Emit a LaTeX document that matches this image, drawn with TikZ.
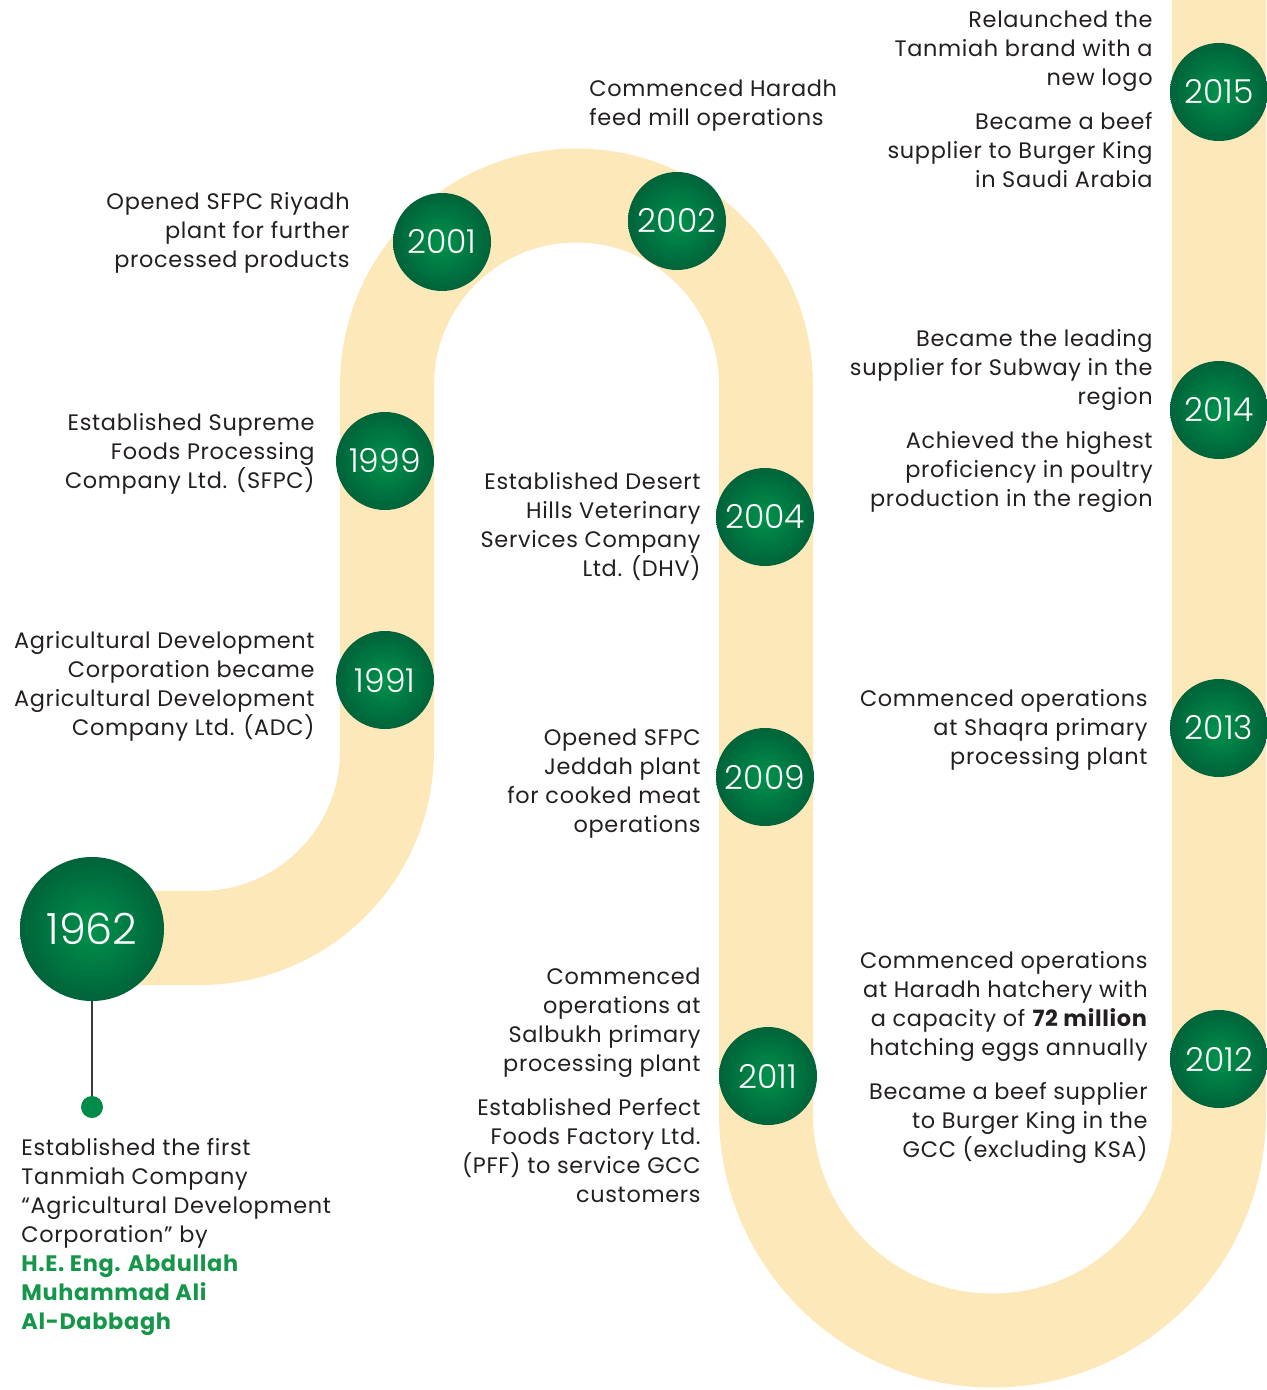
\documentclass[tikz,border=0pt]{standalone}
\usepackage{fontspec}
\setmainfont{Poppins}
\newfontfamily\tlfont{Poppins}[LetterSpace=3]
\newfontfamily\tlyearfont{Poppins}[UprightFont=* Light]
\usetikzlibrary{calc}
\definecolor{tlInk}{HTML}{231F20}
\definecolor{tlTrack}{HTML}{FDE8BA}
\definecolor{tlDark}{HTML}{00633A}
\definecolor{tlLight}{HTML}{00924B}
\definecolor{tlName}{HTML}{16964A}
\definecolor{tlStem}{HTML}{3A3A3A}
\newcommand{\tlgap}{\\[7.5pt]}
\tikzset{
  tltrack/.style={draw=tlTrack, line width=47pt},
  tlyear/.style={
    circle, minimum size=49pt, inner sep=0pt, inner color=tlLight,
    outer color=tlDark, text=white, font=\tlyearfont\fontsize{16.5}{16.5}\selectfont,
  },
  tlbig/.style={tlyear, minimum size=72pt, font=\tlyearfont\fontsize{21.5}{21.5}\selectfont},
  tldot/.style={circle, minimum size=11pt, inner sep=0pt, fill=tlLight!85!tlDark},
  tlstem/.style={draw=tlStem, line width=0.7pt},
  % anchor sits on the baseline of the last line
  tltext/.style={
    align=right, anchor=base east, inner sep=0pt, text=tlInk,
    font=\tlfont\fontsize{11.2}{14.5}\selectfont,
  },
  tltextl/.style={tltext, align=left, anchor=base west},
}

\begin{document}
\begin{tikzpicture}[x=0.5pt, y=-0.5pt]
\useasboundingbox (0,0) rectangle (1266,1390);

% Track -------------------------------------------------------------------
\draw[tltrack] (92,938) -- (200,938)
  arc[start angle=90, end angle=0, radius=187] -- (387,385)
  arc[start angle=180, end angle=360, radius=189.5] -- (766,1114)
  arc[start angle=180, end angle=0, radius=226.5] -- (1219,0);

% Years -------------------------------------------------------------------
\node[tlbig] (y1962) at (92,929) {1962};
\foreach \yr/\px/\py in {1991/385/680, 1999/385/461, 2001/442/242, 2002/677/221,
  2004/765/517, 2009/765/777, 2011/768/1076, 2012/1219/1059, 2013/1219/728,
  2014/1219/410, 2015/1219/92}{%
  \node[tlyear] (y\yr) at (\px,\py) {\yr};
}
\node[tldot] (d1962) at (92,1107) {};
\draw[tlstem] (y1962) -- (d1962);

% Left column -------------------------------------------------------------
\node[tltextl] (t1962) at (21,1329) {%
  Established the first\\ Tanmiah Company\\ “Agricultural Development\\
  Corporation” by\\
  \color{tlName}\bfseries H.E. Eng. Abdullah\\
  \color{tlName}\bfseries Muhammad Ali\\ \color{tlName}\bfseries Al-Dabbagh};
\node[tltext] (t1991) at (315,735) {%
  Agricultural Development\\ Corporation became\\ Agricultural Development\\
  Company Ltd. (ADC)};
\node[tltext] (t1999) at (315,488) {%
  Established Supreme\\ Foods Processing\\ Company Ltd. (SFPC)};
\node[tltext] (t2001) at (350,268) {%
  Opened SFPC Riyadh\\ plant for further\\ processed products};
\node[tltextl] (t2002) at (589,126) {%
  Commenced Haradh\\ feed mill operations};

% Middle column -----------------------------------------------------------
\node[tltext] (t2004) at (701,576) {%
  Established Desert\\ Hills Veterinary\\ Services Company\\ Ltd. (DHV)};
\node[tltext] (t2009) at (701,832) {%
  Opened SFPC\\ Jeddah plant\\ for cooked meat\\ operations};
\node[tltext] (t2011) at (701,1202) {%
  Commenced\\ operations at\\ Salbukh primary\\ processing plant\tlgap
  Established Perfect\\ Foods Factory Ltd.\\ (PFF) to service GCC\\ customers};

% Right column ------------------------------------------------------------
\node[tltext] (t2012) at (1148,1157) {%
  Commenced operations\\ at Haradh hatchery with\\
  a capacity of \textbf{72 million}\\ hatching eggs annually\tlgap
  Became a beef supplier\\ to Burger King in the\\ GCC (excluding KSA)};
\node[tltext] (t2013) at (1148,764) {%
  Commenced operations\\ at Shaqra primary\\ processing plant};
\node[tltext] (t2014) at (1153,506) {%
  Became the leading\\ supplier for Subway in the\\ region\tlgap
  Achieved the highest\\ proficiency in poultry\\ production in the region};
\node[tltext] (t2015) at (1153,188) {%
  Relaunched the\\ Tanmiah brand with a\\ new logo\tlgap
  Became a beef\\ supplier to Burger King\\ in Saudi Arabia};

\end{tikzpicture}
\end{document}
